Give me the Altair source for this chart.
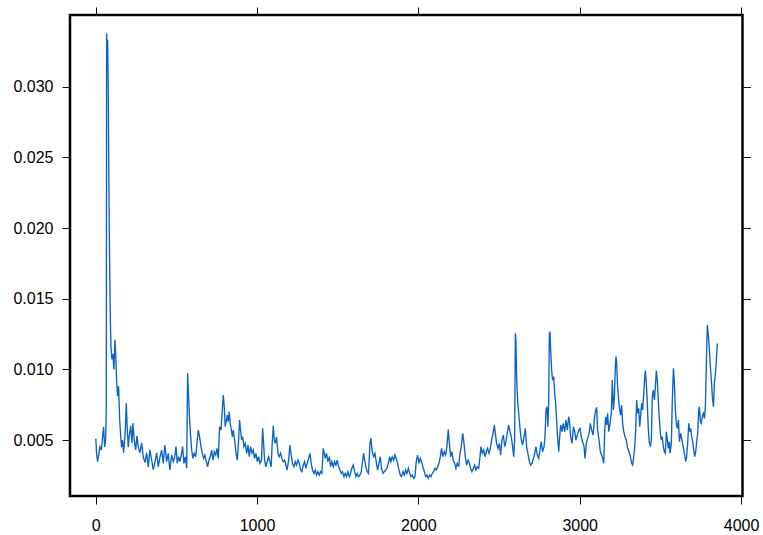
import altair as alt
import pandas as pd

# Volatility series as (observation index, value) pairs, split into stretches
opening_spike = [
    (1, .0051), (6, .00405), (12, .00346), (20, .00405), (27, .00452), (35, .00429),
    (43, .00523), (49, .00594), (56, .00452), (62, .0050), (66, .00736), (68, .03378),
    (72, .03236), (74, .0333), (78, .0300), (82, .0229), (86, .0182), (91, .0135),
    (95, .0116), (101, .0107), (107, .0111), (113, .0100), (120, .0121), (124, .0111),
    (130, .0092), (136, .0081), (142, .0088), (149, .0064), (155, .0053), (161, .0045),
    (167, .0050), (173, .0041), (182, .0053), (190, .0076), (196, .0057), (202, .0045),
    (208, .0053), (217, .0060), (225, .0048), (231, .0062), (239, .0050), (248, .0043),
    (256, .0053), (264, .0045), (275, .0041), (285, .0048), (295, .0038), (306, .0034),
    (316, .0041), (326, .0031), (336, .0043), (347, .0036), (357, .0029), (367, .0034),
    (378, .0041), (388, .0031),
]

stretch_400_1010 = [
    (399, .00382), (409, .00429), (419, .00335), (429, .00465), (440, .00347), (450, .00406),
    (460, .00288), (471, .00394), (481, .00347), (491, .00382), (498, .00453), (506, .00335),
    (514, .00382), (522, .00347), (531, .00394), (539, .00453), (547, .00335), (556, .00382),
    (564, .00300), (570, .00972), (576, .00807), (582, .00641), (589, .00523), (595, .00429),
    (603, .00370), (611, .00406), (620, .00382), (628, .00476), (636, .00571), (644, .00523),
    (653, .00453), (661, .00406), (669, .00370), (677, .00394), (686, .00347), (694, .00311),
    (702, .00358), (710, .00382), (719, .00429), (727, .00358), (735, .00417), (744, .00394),
    (752, .00441), (760, .00370), (768, .00594), (777, .00571), (785, .00712), (791, .00818),
    (797, .00736), (803, .00594), (810, .00641), (816, .00677), (822, .00630), (828, .00700),
    (834, .00618), (841, .00571), (847, .00523), (853, .00571), (861, .00500), (870, .00406),
    (878, .00358), (886, .00500), (892, .00641), (898, .00571), (905, .00500), (911, .00523),
    (919, .00453), (927, .00476), (936, .00406), (944, .00465), (952, .00382), (960, .00453),
    (969, .00406), (977, .00429), (985, .00370), (993, .00406), (1002, .00347), (1010, .00382),
]

stretch_1018_1700 = [
    (1018, .00335), (1028, .00358), (1035, .00583), (1041, .00476), (1047, .00358), (1055, .00311),
    (1063, .00347), (1072, .00382), (1080, .00347), (1088, .00311), (1094, .00476), (1101, .00601),
    (1107, .00500), (1113, .00476), (1121, .00523), (1130, .00406), (1138, .00382), (1146, .00406),
    (1154, .00370), (1163, .00347), (1171, .00358), (1179, .00323), (1187, .00288), (1196, .00358),
    (1204, .00465), (1212, .00394), (1220, .00335), (1229, .00311), (1237, .00347), (1245, .00323),
    (1254, .00358), (1262, .00335), (1270, .00288), (1278, .00276), (1287, .00323), (1295, .00347),
    (1303, .00300), (1311, .00335), (1320, .00370), (1328, .00406), (1336, .00335), (1344, .00288),
    (1353, .00264), (1361, .00288), (1369, .00252), (1377, .00276), (1386, .00252), (1394, .00276),
    (1402, .00264), (1411, .00441), (1417, .00406), (1423, .00370), (1431, .00406), (1439, .00347),
    (1448, .00382), (1456, .00311), (1464, .00347), (1473, .00311), (1481, .00347), (1489, .00323),
    (1497, .00358), (1506, .00311), (1514, .00288), (1522, .00264), (1530, .00276), (1539, .00241),
    (1547, .00264), (1555, .00241), (1563, .00276), (1572, .00241), (1580, .00264), (1588, .00300),
    (1596, .00323), (1605, .00276), (1613, .00241), (1621, .00264), (1630, .00241), (1638, .00252),
    (1646, .00276), (1654, .00347), (1661, .00406), (1667, .00358), (1675, .00311), (1683, .00276),
    (1691, .00264), (1700, .00476),
]

stretch_1706_2250 = [
    (1706, .00512), (1714, .00417), (1723, .00382), (1731, .00406), (1739, .00347), (1747, .00288),
    (1756, .00335), (1764, .00382), (1772, .00300), (1781, .00264), (1789, .00276), (1797, .00288),
    (1805, .00300), (1814, .00335), (1822, .00382), (1830, .00347), (1838, .00382), (1847, .00358),
    (1855, .00394), (1863, .00370), (1871, .00335), (1880, .00288), (1888, .00252), (1896, .00241),
    (1905, .00276), (1913, .00252), (1921, .00288), (1929, .00264), (1938, .00300), (1946, .00264),
    (1954, .00241), (1962, .00252), (1971, .00229), (1979, .00241), (1987, .00347), (1995, .00394),
    (2004, .00335), (2012, .00370), (2020, .00347), (2028, .00311), (2037, .00276), (2045, .00241),
    (2053, .00252), (2062, .00229), (2070, .00252), (2078, .00241), (2086, .00264), (2095, .00276),
    (2103, .00300), (2111, .00288), (2119, .00311), (2128, .00335), (2136, .00382), (2144, .00441),
    (2152, .00382), (2161, .00417), (2169, .00394), (2177, .00453), (2185, .00575), (2192, .00476),
    (2200, .00382), (2208, .00417), (2216, .00358), (2225, .00335), (2233, .00300), (2241, .00335),
    (2250, .00311),
]

stretch_2258_2932 = [
    (2258, .00406), (2266, .00453), (2275, .00547), (2283, .00476), (2291, .00382), (2299, .00323),
    (2308, .00358), (2316, .00335), (2324, .00300), (2332, .00276), (2341, .00300), (2349, .00323),
    (2357, .00288), (2365, .00311), (2374, .00300), (2382, .00382), (2388, .00453), (2396, .00406),
    (2405, .00429), (2413, .00382), (2421, .00417), (2429, .00441), (2438, .00406), (2446, .00441),
    (2454, .00500), (2463, .00547), (2471, .00606), (2477, .00547), (2485, .00476), (2494, .00441),
    (2502, .00476), (2510, .00394), (2518, .00500), (2527, .00535), (2535, .00453), (2543, .00488),
    (2551, .00547), (2560, .00606), (2568, .00559), (2576, .00523), (2584, .00453), (2591, .00382),
    (2597, .00500), (2601, .01255), (2605, .01196), (2609, .00948), (2615, .00783), (2622, .00689),
    (2630, .00582), (2638, .00500), (2646, .00465), (2655, .00523), (2663, .00582), (2671, .00453),
    (2679, .00406), (2688, .00347), (2696, .00323), (2704, .00335), (2713, .00370), (2721, .00406),
    (2729, .00453), (2737, .00394), (2746, .00370), (2754, .00429), (2762, .00488), (2770, .00417),
    (2779, .00453), (2785, .00523), (2791, .00712), (2797, .00736), (2803, .00594), (2808, .00783),
    (2812, .01255), (2816, .01267), (2820, .01137), (2826, .00995), (2832, .00924), (2839, .00948),
    (2845, .00830), (2851, .00759), (2857, .00641), (2863, .00523), (2870, .00417), (2876, .00523),
    (2882, .00606), (2890, .00559), (2898, .00618), (2907, .00559), (2915, .00641), (2923, .00570),
    (2932, .00665),
]

stretch_2936_3556 = [
    (2936, .00641), (2944, .00523), (2952, .00476), (2961, .00594), (2969, .00559), (2977, .00500),
    (2985, .00535), (2994, .00570), (3002, .00582), (3010, .00523), (3018, .00488), (3027, .00453),
    (3033, .00370), (3041, .00476), (3049, .00512), (3058, .00547), (3066, .00618), (3074, .00570),
    (3083, .00535), (3091, .00653), (3099, .00712), (3105, .00731), (3111, .00570), (3120, .00500),
    (3128, .00417), (3136, .00394), (3145, .00358), (3149, .00335), (3155, .00570), (3161, .00665),
    (3167, .00606), (3173, .00689), (3180, .00559), (3188, .00618), (3196, .00689), (3202, .00925),
    (3209, .00712), (3215, .00807), (3221, .01019), (3225, .01090), (3229, .01043), (3235, .00877),
    (3242, .00783), (3248, .00712), (3254, .00677), (3260, .00748), (3266, .00618), (3273, .00559),
    (3281, .00523), (3289, .00500), (3297, .00441), (3306, .00417), (3314, .00382), (3322, .00335),
    (3328, .00323), (3335, .00382), (3341, .00453), (3347, .00570), (3353, .00783), (3359, .00689),
    (3366, .00724), (3372, .00594), (3378, .00677), (3384, .00759), (3390, .00712), (3397, .00830),
    (3403, .00948), (3407, .00991), (3413, .00901), (3419, .00759), (3425, .00582), (3432, .00476),
    (3438, .00453), (3444, .00500), (3450, .00807), (3456, .00854), (3463, .00783), (3469, .00877),
    (3475, .00991), (3481, .00925), (3487, .00783), (3494, .00641), (3500, .00547), (3506, .00500),
    (3512, .00523), (3518, .00453), (3525, .00417), (3531, .00406), (3537, .00559), (3543, .00500),
    (3549, .00441), (3556, .00488),
]

closing_stretch = [
    (3560, .00406), (3568, .00476), (3574, .00783), (3581, .01007), (3587, .00901), (3593, .00712),
    (3599, .00618), (3605, .00582), (3612, .00641), (3618, .00488), (3626, .00547), (3634, .00500),
    (3643, .00441), (3651, .00394), (3657, .00347), (3663, .00382), (3669, .00476), (3676, .00618),
    (3682, .00559), (3688, .00582), (3694, .00523), (3700, .00488), (3707, .00429), (3713, .00382),
    (3719, .00417), (3725, .00488), (3731, .00547), (3738, .00712), (3742, .00736), (3748, .00630),
    (3754, .00618), (3760, .00665), (3767, .00689), (3773, .00653), (3779, .00736), (3785, .01043),
    (3791, .01314), (3798, .01231), (3804, .01137), (3810, .01019), (3816, .00925), (3822, .00807),
    (3829, .00736), (3835, .00913), (3841, .00960), (3847, .01066), (3853, .01184),
]

x_ticks = [0, 1000, 2000, 3000, 4000]
y_ticks = [0.005, 0.010, 0.015, 0.020, 0.025, 0.030]

stretches = [opening_spike, stretch_400_1010, stretch_1018_1700, stretch_1706_2250,
             stretch_2258_2932, stretch_2936_3556, closing_stretch]
df = pd.DataFrame([p for s in stretches for p in s], columns=["t", "vol"])

FONT = "Liberation Sans"
x_scale = alt.Scale(domain=[-159, 4009], nice=False, zero=False)
y_scale = alt.Scale(domain=[0.00104, 0.03507], nice=False, zero=False)


def axis(orient, values, fmt, labels):
    return alt.Axis(
        orient=orient, values=values, format=fmt, labels=labels, title=None,
        domain=False, grid=False, ticks=True, tickSize=8, tickWidth=1,
        tickColor="#111111", labelFont=FONT, labelFontSize=16, labelColor="black",
        labelPadding=9 if orient == "left" else 13, labelFlush=False,
        labelOverlap=False, labelBound=False,
    )


series = alt.Chart(df).mark_line(color="#0a64c8", strokeWidth=1.35).encode(
    x=alt.X("t:Q", scale=x_scale, axis=axis("bottom", x_ticks, "d", True)),
    y=alt.Y("vol:Q", scale=y_scale, axis=axis("left", y_ticks, ".3f", True)),
)

# invisible copy that carries the tick marks on the top and right edges
mirror = alt.Chart(df).mark_line(opacity=0).encode(
    x=alt.X("t:Q", scale=x_scale, axis=axis("top", x_ticks, "d", False)),
    y=alt.Y("vol:Q", scale=y_scale, axis=axis("right", y_ticks, ".3f", False)),
)

chart = (
    alt.layer(series, mirror)
    .resolve_axis(x="independent", y="independent")
    .properties(
        width=672.5,
        height=481,
        autosize="none",
        padding={"left": 70, "top": 15, "right": 20, "bottom": 39},
        background="white",
    )
    .configure_view(stroke="black", strokeWidth=2.5)
)

chart.save("out.html", embed_options={"renderer": "svg", "actions": False})
